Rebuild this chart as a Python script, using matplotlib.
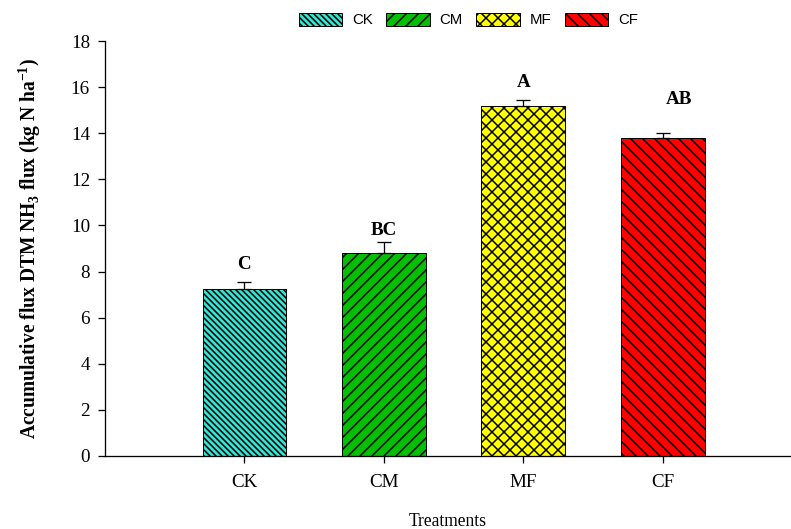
import numpy as np
import matplotlib.pyplot as plt
import matplotlib as mpl

# dpi 72 so one point is one pixel and the hatch spacing comes out like the original
DPI = 72
plt.rcParams['hatch.linewidth'] = 1.5
plt.rcParams['mathtext.fontset'] = 'custom'
plt.rcParams['mathtext.rm'] = 'Liberation Serif'
plt.rcParams['mathtext.bf'] = 'Liberation Serif:bold'

# data
treatments = ["CK", "CM", "MF", "CF"]
flux = [7.25, 8.8, 15.2, 13.78]
err = [0.3, 0.47, 0.22, 0.24]
letters = ["C", "BC", "A", "AB"]
letter_y = [8.3, 9.8, 16.2, 15.45]

colors = ["#40E0D0", "#00C000", "#FFFF00", "#FF0000"]
hatches = ["\\\\\\\\", "//", "xx", "\\\\"]

fig = plt.figure(figsize=(791 / DPI, 529 / DPI), dpi=DPI)
ax = fig.add_axes([105 / 791, 1 - 456 / 529, 686 / 791, 415 / 529])

x = np.arange(len(treatments))
bars = ax.bar(x, flux, width=0.6, color=colors, edgecolor="black", linewidth=1)
for b, h in zip(bars, hatches):
    b.set_hatch(h)
ax.errorbar(x, flux, yerr=[np.zeros(4), err], fmt="none", ecolor="black",
            elinewidth=1.3, capsize=7, capthick=1.3)

for i, t in enumerate(letters):
    xo = 0.12 if t == "AB" else 0
    ax.text(x[i] + xo, letter_y[i], t, ha="center", va="center",
            fontfamily="Liberation Serif", fontweight="bold", fontsize=19)

ax.set_xlim(-1.0, 3.92)
ax.set_ylim(0, 18)
ax.set_yticks(np.arange(0, 19, 2))
ax.set_xticks(x)
ax.set_xticklabels(treatments)
for lab in ax.get_xticklabels() + ax.get_yticklabels():
    lab.set_fontfamily("Liberation Serif")
    lab.set_fontsize(19)
ax.tick_params(direction="out", length=7, width=1.3, pad=8)
ax.tick_params(axis="x", pad=11)
for s in ["left", "bottom"]:
    ax.spines[s].set_linewidth(1.3)
ax.spines["top"].set_visible(False)
ax.spines["right"].set_visible(False)

ax.set_xlabel("Treatments", fontfamily="Liberation Serif", fontsize=17.5, labelpad=22)
ax.set_ylabel(r"Accumulative flux DTM NH$_\mathbf{3}$ flux (kg N ha$^{\mathbf{-1}}$)",
              fontfamily="Liberation Serif", fontweight="bold", fontsize=19.5, labelpad=28)

handles = [mpl.patches.Patch(facecolor=c, edgecolor="black", hatch=h, label=t)
           for c, h, t in zip(colors, hatches, treatments)]
fig.legend(handles=handles, loc="center", bbox_to_anchor=(0.592, 0.962), ncol=4,
           frameon=False, prop={"family": "Liberation Sans", "size": 15},
           handlelength=2.9, handleheight=0.95, columnspacing=0.9, handletextpad=0.65)

fig.savefig("out.png", dpi=DPI)
